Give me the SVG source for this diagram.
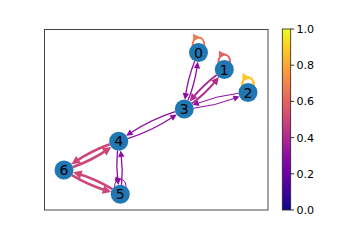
<svg xmlns="http://www.w3.org/2000/svg" width="360" height="240" viewBox="0 0 360 240">
<style>
.e{fill:none;stroke-linecap:butt}
.p{stroke:#8f0da4;stroke-width:1.3}
.pt{stroke:#8f0da4;stroke-width:1}
.m{stroke:#b02a8f;stroke-width:2}
.k{stroke:#cc4778;stroke-width:2.6}
.node circle{fill:#1f77b4}
.node text{font-family:"DejaVu Sans",sans-serif;font-size:14px;text-anchor:middle;fill:#000}
.tick{font-family:"DejaVu Sans",sans-serif;font-size:11.1px;fill:#000}
</style>
<defs>
<linearGradient id="plasma" x1="0" y1="1" x2="0" y2="0">
<stop offset="0" stop-color="#0d0887"/>
<stop offset="0.1" stop-color="#41049d"/>
<stop offset="0.2" stop-color="#6a00a8"/>
<stop offset="0.3" stop-color="#8f0da4"/>
<stop offset="0.4" stop-color="#b12a90"/>
<stop offset="0.5" stop-color="#cc4778"/>
<stop offset="0.6" stop-color="#e16462"/>
<stop offset="0.7" stop-color="#f2844b"/>
<stop offset="0.8" stop-color="#fca636"/>
<stop offset="0.9" stop-color="#fcce25"/>
<stop offset="1" stop-color="#f0f921"/>
</linearGradient>
<marker id="mP" markerUnits="userSpaceOnUse" viewBox="-4 -5 12 10" markerWidth="12" markerHeight="10" refX="1.3" refY="0" orient="auto" overflow="visible"><path d="M0,-2.2L4.4,0L0,2.2Z" fill="#8f0da4" stroke="#8f0da4" stroke-width="1.3"/></marker>
<marker id="mPt" markerUnits="userSpaceOnUse" viewBox="-4 -5 12 10" markerWidth="12" markerHeight="10" refX="1" refY="0" orient="auto" overflow="visible"><path d="M0,-2.2L4.4,0L0,2.2Z" fill="#8f0da4" stroke="#8f0da4" stroke-width="1"/></marker>
<marker id="mM" markerUnits="userSpaceOnUse" viewBox="-4 -5 12 10" markerWidth="12" markerHeight="10" refX="2.1" refY="0" orient="auto" overflow="visible"><path d="M0,-2.2L4.4,0L0,2.2Z" fill="#b02a8f" stroke="#b02a8f" stroke-width="2"/></marker>
<marker id="mK" markerUnits="userSpaceOnUse" viewBox="-4 -5 12 10" markerWidth="12" markerHeight="10" refX="2.75" refY="0" orient="auto" overflow="visible"><path d="M0,-2.2L4.4,0L0,2.2Z" fill="#cc4778" stroke="#cc4778" stroke-width="2.6"/></marker>
<marker id="mLo" markerUnits="userSpaceOnUse" viewBox="-4 -5 12 10" markerWidth="12" markerHeight="10" refX="4.4" refY="0" orient="auto" overflow="visible"><path d="M0,-2.2L4.4,0L0,2.2Z" fill="#ee7b51" stroke="#ee7b51" stroke-width="2"/></marker>
<marker id="mLs" markerUnits="userSpaceOnUse" viewBox="-4 -5 12 10" markerWidth="12" markerHeight="10" refX="4.4" refY="0" orient="auto" overflow="visible"><path d="M0,-2.2L4.4,0L0,2.2Z" fill="#e16462" stroke="#e16462" stroke-width="2"/></marker>
<marker id="mLy" markerUnits="userSpaceOnUse" viewBox="-4 -5 12 10" markerWidth="12" markerHeight="10" refX="4.4" refY="0" orient="auto" overflow="visible"><path d="M0,-2.2L4.4,0L0,2.2Z" fill="#fcc627" stroke="#fcc627" stroke-width="2.5"/></marker>
<marker id="mLp" markerUnits="userSpaceOnUse" viewBox="-4 -5 12 10" markerWidth="12" markerHeight="10" refX="4.4" refY="0" orient="auto" overflow="visible"><path d="M0,-2.2L4.4,0L0,2.2Z" fill="#8f0da4" stroke="#8f0da4" stroke-width="1"/></marker>
</defs>
<rect width="360" height="240" fill="#fff"/>
<rect x="44.5" y="29.5" width="223.5" height="180.5" fill="none" stroke="#333" stroke-width="0.9"/>
<g id="connectors">
<path class="e p" d="M194.71,61.15Q188.10,77.64 185.61,95.17" marker-end="url(#mP)"/>
<path class="e p" d="M188.09,100.35Q194.70,83.86 197.19,66.33" marker-end="url(#mP)"/>
<path class="e m" d="M216.58,74.94Q203.22,85.02 192.61,97.88" marker-end="url(#mM)"/>
<path class="e m" d="M192.02,103.56Q205.38,93.48 215.99,80.62" marker-end="url(#mM)"/>
<path class="e pt" d="M238.58,93.29Q217.11,95.68 197.04,103.46" marker-end="url(#mPt)"/>
<path class="e pt" d="M193.72,108.21Q215.19,105.82 235.26,98.05" marker-end="url(#mPt)"/>
<path class="e p" d="M175.23,111.66Q151.11,119.37 130.03,133.24" marker-end="url(#mP)"/>
<path class="e p" d="M127.78,138.64Q151.89,130.93 172.97,117.06" marker-end="url(#mP)"/>
<path class="e k" d="M109.72,144.23Q91.32,150.83 75.17,161.73" marker-end="url(#mK)"/>
<path class="e k" d="M72.98,167.07Q91.39,160.47 107.53,149.57" marker-end="url(#mK)"/>
<path class="e k" d="M112.37,189.07Q95.85,179.07 77.45,173.46" marker-end="url(#mK)"/>
<path class="e k" d="M71.93,175.13Q88.45,185.13 106.85,190.74" marker-end="url(#mK)"/>
<path class="e p" d="M117.45,150.66Q115.96,165.65 117.85,180.54" marker-end="url(#mP)"/>
<path class="e p" d="M121.55,184.84Q123.04,169.85 121.15,154.96" marker-end="url(#mP)"/>
<path class="e" stroke="#ee7b51" stroke-width="2" d="M198.5,37.5C206.2,37.5 206.2,52.5 198.5,52.5C190.8,52.5 190.8,37.5 198.5,37.5" marker-end="url(#mLo)"/>
<path class="e" stroke="#e16462" stroke-width="2" d="M224.3,54.5C232,54.5 232,69.5 224.3,69.5C216.6,69.5 216.6,54.5 224.3,54.5" marker-end="url(#mLs)"/>
<path class="e" stroke="#fcc627" stroke-width="2.5" d="M248,77.5C255.7,77.5 255.7,92.5 248,92.5C240.3,92.5 240.3,77.5 248,77.5" marker-end="url(#mLy)"/>
<path class="e" stroke="#8f0da4" stroke-width="1" d="M120.3,179.2C128,179.2 128,194.2 120.3,194.2C112.6,194.2 112.6,179.2 120.3,179.2" marker-end="url(#mLp)"/>
</g>
<g id="n0" class="node"><circle cx="198.5" cy="52.5" r="9.5"/><text x="198.5" y="57.6">0</text></g>
<g id="n1" class="node"><circle cx="224.3" cy="69.5" r="9.5"/><text x="224.3" y="74.6">1</text></g>
<g id="n2" class="node"><circle cx="248" cy="92.5" r="9.5"/><text x="248" y="97.6">2</text></g>
<g id="n3" class="node"><circle cx="184.3" cy="109" r="9.5"/><text x="184.3" y="114.1">3</text></g>
<g id="n4" class="node"><circle cx="118.7" cy="141.3" r="9.5"/><text x="118.7" y="146.4">4</text></g>
<g id="n5" class="node"><circle cx="120.3" cy="194.2" r="9.5"/><text x="120.3" y="199.3">5</text></g>
<g id="n6" class="node"><circle cx="64" cy="170" r="9.5"/><text x="64" y="175.1">6</text></g>
<g id="colorbar">
<rect x="282.3" y="29" width="8.4" height="181" fill="url(#plasma)" stroke="#222" stroke-width="0.8"/>
<g stroke="#000" stroke-width="0.8">
<line x1="290.7" y1="29" x2="294.2" y2="29"/>
<line x1="290.7" y1="65.2" x2="294.2" y2="65.2"/>
<line x1="290.7" y1="101.4" x2="294.2" y2="101.4"/>
<line x1="290.7" y1="137.6" x2="294.2" y2="137.6"/>
<line x1="290.7" y1="173.8" x2="294.2" y2="173.8"/>
<line x1="290.7" y1="210" x2="294.2" y2="210"/>
</g>
<text class="tick" x="296.5" y="33.05">1.0</text>
<text class="tick" x="296.5" y="69.25">0.8</text>
<text class="tick" x="296.5" y="105.45">0.6</text>
<text class="tick" x="296.5" y="141.65">0.4</text>
<text class="tick" x="296.5" y="177.85">0.2</text>
<text class="tick" x="296.5" y="214.05">0.0</text>
</g>
</svg>
